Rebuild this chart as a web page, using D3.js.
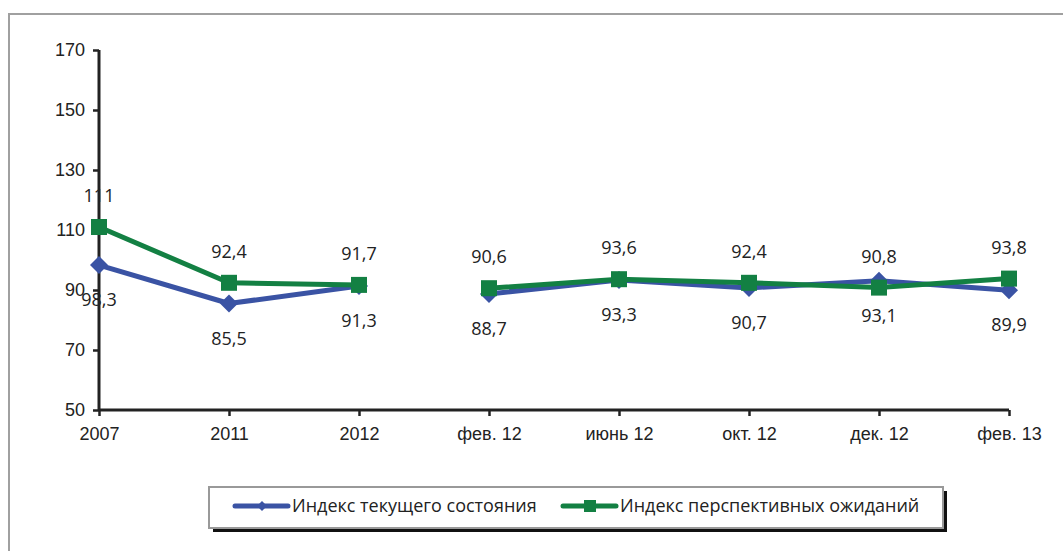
<!DOCTYPE html>
<html>
<head>
<meta charset="utf-8">
<script src="https://cdn.jsdelivr.net/npm/d3@7"></script>
<style>
  body { margin: 0; background: #fff; }
  svg { font-family: "Open Sans", "Noto Sans", sans-serif; }
  .axis text { font-size: 18px; fill: #222; }
  .value { font-size: 18px; fill: #222; }
  .legend text { font-size: 18px; fill: #222; }
</style>
</head>
<body>
<svg id="chart" width="1063" height="551"></svg>
<script>
// periods on the x axis
const categories = ["2007", "2011", "2012", "фев. 12", "июнь 12", "окт. 12", "дек. 12", "фев. 13"];
// Индекс текущего состояния
const currentIndex = [98.3, 85.5, 91.3, 88.7, 93.3, 90.7, 93.1, 89.9];
// Индекс перспективных ожиданий
const expectIndex = [111, 92.4, 91.7, 90.6, 93.6, 92.4, 90.8, 93.8];
const yTicks = [50, 70, 90, 110, 130, 150, 170];
// line is broken between 2012 and фев. 12
const segments = [[0, 1, 2], [3, 4, 5, 6, 7]];

const blue = "#3a53a4";
const green = "#138043";

const series = [
  { name: "Индекс текущего состояния", values: currentIndex, color: blue, marker: "diamond", labelDy: 41 },
  { name: "Индекс перспективных ожиданий", values: expectIndex, color: green, marker: "square", labelDy: -25 }
];

const svg = d3.select("#chart");

// outer frame with shadow
svg.append("rect")
  .attr("x", 12).attr("y", 17)
  .attr("width", 1070).attr("height", 560)
  .attr("fill", "#555");
svg.append("rect")
  .attr("x", 9).attr("y", 14)
  .attr("width", 1070).attr("height", 560)
  .attr("fill", "#fff")
  .attr("stroke", "#a0a0a0")
  .attr("stroke-width", 2);

const x = d3.scalePoint().domain(categories).range([99, 1009]);
const y = d3.scaleLinear().domain([50, 170]).range([410, 50]);

const fmt = (v) => String(v).replace(".", ",");

// y axis
const yAxis = svg.append("g")
  .attr("class", "axis")
  .attr("transform", "translate(99,0)")
  .call(d3.axisLeft(y).tickValues(yTicks).tickSize(6).tickPadding(8));
yAxis.select(".domain").attr("stroke", "#222").attr("stroke-width", 3).attr("d", `M0,${y(170)}V${y(50)}`);
yAxis.selectAll(".tick line").attr("stroke", "#222").attr("stroke-width", 2.5);

// x axis
const xAxis = svg.append("g")
  .attr("class", "axis")
  .attr("transform", "translate(0,410)")
  .call(d3.axisBottom(x).tickSize(6).tickPadding(11));
xAxis.select(".domain").attr("stroke", "#222").attr("stroke-width", 3).attr("d", `M${x(categories[0])},0H${x(categories[categories.length - 1])}`);
xAxis.selectAll(".tick line").attr("stroke", "#222").attr("stroke-width", 2.5);

function drawMarker(g, type, cx, cy, size, color) {
  if (type === "diamond") {
    g.append("path")
      .attr("d", `M${cx},${cy - size}L${cx + size},${cy}L${cx},${cy + size}L${cx - size},${cy}Z`)
      .attr("fill", color);
  } else {
    g.append("rect")
      .attr("x", cx - size).attr("y", cy - size)
      .attr("width", size * 2).attr("height", size * 2)
      .attr("fill", color);
  }
}

series.forEach((s) => {
  const g = svg.append("g");
  const path = d3.line()
    .x((i) => x(categories[i]))
    .y((i) => y(s.values[i]));
  segments.forEach((seg) => {
    g.append("path")
      .attr("d", path(seg))
      .attr("fill", "none")
      .attr("stroke", s.color)
      .attr("stroke-width", 5)
      .attr("stroke-linejoin", "round");
  });
  s.values.forEach((v, i) => {
    drawMarker(g, s.marker, x(categories[i]), y(v), s.marker === "diamond" ? 9 : 8, s.color);
  });
});

// data labels
series.forEach((s) => {
  svg.append("g").selectAll("text")
    .data(s.values)
    .join("text")
    .attr("class", "value")
    .attr("x", (v, i) => x(categories[i]))
    .attr("y", (v) => y(v) + s.labelDy)
    .attr("text-anchor", "middle")
    .text((v) => fmt(v));
});

// legend
const legend = svg.append("g").attr("class", "legend");
legend.append("rect")
  .attr("x", 213).attr("y", 491).attr("width", 734).attr("height", 41)
  .attr("fill", "#111");
legend.append("rect")
  .attr("x", 209).attr("y", 487).attr("width", 734).attr("height", 41)
  .attr("fill", "#fff").attr("stroke", "#999").attr("stroke-width", 2);

const legendX = [235, 563];
series.forEach((s, k) => {
  const lx = legendX[k];
  const ly = 506;
  legend.append("line")
    .attr("x1", lx).attr("x2", lx + 53)
    .attr("y1", ly).attr("y2", ly)
    .attr("stroke", s.color).attr("stroke-width", 5)
    .attr("stroke-linecap", "round");
  drawMarker(legend, s.marker, lx + 27, ly, s.marker === "diamond" ? 5 : 6, s.color);
  legend.append("text")
    .attr("x", lx + 57).attr("y", ly)
    .attr("dy", "0.35em")
    .text(s.name);
});
</script>
</body>
</html>
